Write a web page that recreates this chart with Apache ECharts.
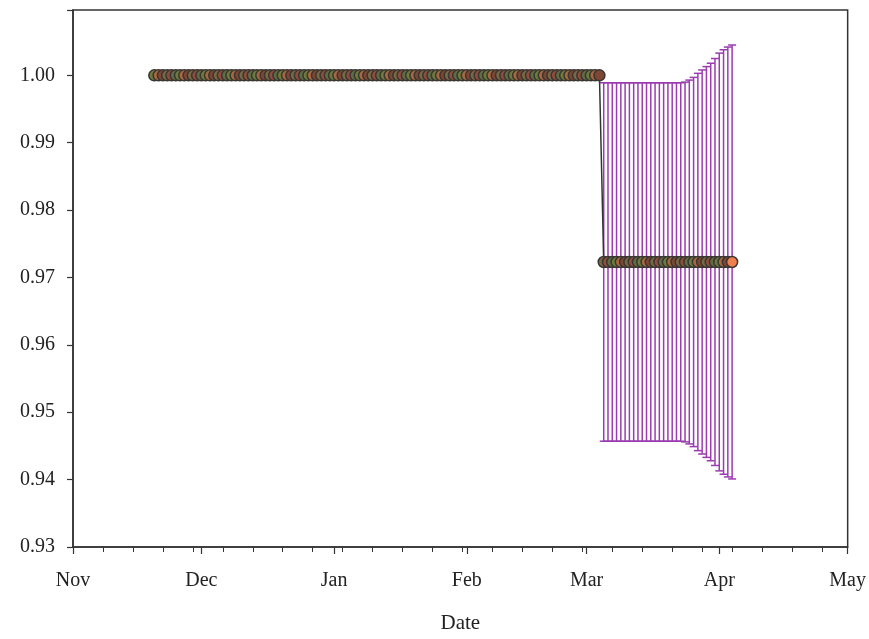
<!DOCTYPE html>
<html>
<head>
<meta charset="utf-8">
<script src="https://cdn.jsdelivr.net/npm/echarts@6/dist/echarts.min.js"></script>
<style>
  html, body { margin: 0; padding: 0; background: #ffffff; }
  #chart { width: 869px; height: 639px; }
</style>
</head>
<body>
<div id="chart"></div>
<script>
// Daily estimate, first value on 20 Nov 2020
const firstDay = [2020, 10, 20];
const survival = [
  1.000, 1.000, 1.000, 1.000, 1.000, 1.000, 1.000, 1.000, 1.000, 1.000, 1.000,
  1.000, 1.000, 1.000, 1.000, 1.000, 1.000, 1.000, 1.000, 1.000, 1.000, 1.000,
  1.000, 1.000, 1.000, 1.000, 1.000, 1.000, 1.000, 1.000, 1.000, 1.000, 1.000,
  1.000, 1.000, 1.000, 1.000, 1.000, 1.000, 1.000, 1.000, 1.000, 1.000, 1.000,
  1.000, 1.000, 1.000, 1.000, 1.000, 1.000, 1.000, 1.000, 1.000, 1.000, 1.000,
  1.000, 1.000, 1.000, 1.000, 1.000, 1.000, 1.000, 1.000, 1.000, 1.000, 1.000,
  1.000, 1.000, 1.000, 1.000, 1.000, 1.000, 1.000, 1.000, 1.000, 1.000, 1.000,
  1.000, 1.000, 1.000, 1.000, 1.000, 1.000, 1.000, 1.000, 1.000, 1.000, 1.000,
  1.000, 1.000, 1.000, 1.000, 1.000, 1.000, 1.000, 1.000, 1.000, 1.000, 1.000,
  1.000, 1.000, 1.000, 1.000, 1.000, 1.000,
  0.9723, 0.9723, 0.9723, 0.9723, 0.9723, 0.9723, 0.9723, 0.9723, 0.9723, 0.9723,
  0.9723, 0.9723, 0.9723, 0.9723, 0.9723, 0.9723, 0.9723, 0.9723, 0.9723, 0.9723,
  0.9723, 0.9723, 0.9723, 0.9723, 0.9723, 0.9723, 0.9723, 0.9723, 0.9723, 0.9723,
  0.9723
];

// Confidence limits, first value on 5 Mar 2021
const ciFirstDay = [2021, 2, 5];
const ciLower = [
  0.9457, 0.9457, 0.9457, 0.9457, 0.9457, 0.9457, 0.9457, 0.9457, 0.9457, 0.9457,
  0.9457, 0.9457, 0.9457, 0.9457, 0.9457, 0.9457, 0.9457, 0.9457, 0.9457,
  0.9456, 0.9453, 0.9449, 0.9443, 0.9438, 0.9433, 0.9428, 0.9421, 0.9413,
  0.9408, 0.9404, 0.9401
];
const ciUpper = [
  0.9989, 0.9989, 0.9989, 0.9989, 0.9989, 0.9989, 0.9989, 0.9989, 0.9989, 0.9989,
  0.9989, 0.9989, 0.9989, 0.9989, 0.9989, 0.9989, 0.9989, 0.9989, 0.9989,
  0.9990, 0.9993, 0.9997, 1.0003, 1.0008, 1.0013, 1.0018, 1.0025, 1.0033,
  1.0038, 1.0042, 1.0045
];

const monthNames = ['Jan', 'Feb', 'Mar', 'Apr', 'May', 'Jun',
                    'Jul', 'Aug', 'Sep', 'Oct', 'Nov', 'Dec'];
const axisStart = new Date(2020, 10, 1).getTime();
const axisEnd = new Date(2021, 4, 1).getTime();
const axisDays = 181;

const markerFills = ['#6c7a3c', '#a8683f', '#7e4634', '#766a44', '#924c3e', '#5f6c44'];
const lastFill = '#ef7f4e';

function dayAt(start, i) {
  return new Date(start[0], start[1], start[2] + i).getTime();
}

const lineData = survival.map((v, i) => [dayAt(firstDay, i), v]);
const barData = ciLower.map((lo, i) => [dayAt(ciFirstDay, i), lo, ciUpper[i]]);

const serif = 'Liberation Serif';
const ink = '#222222';

const chart = echarts.init(document.getElementById('chart'), null, { renderer: 'canvas' });
chart.setOption({
  animation: false,
  backgroundColor: '#ffffff',
  grid: {
    left: 73, right: 17, top: 10, bottom: 86,
    show: true, borderColor: '#333333', borderWidth: 1.5, backgroundColor: 'transparent'
  },
  xAxis: [
    {
      type: 'time',
      min: axisStart,
      max: axisEnd,
      splitNumber: 7,
      minInterval: 28 * 86400000,
      maxInterval: 31 * 86400000,
      name: 'Date',
      nameLocation: 'middle',
      nameGap: 66,
      nameTextStyle: { fontFamily: serif, fontSize: 21, color: ink },
      axisLine: { show: true, lineStyle: { color: '#333333', width: 1.5 } },
      axisTick: { show: true, length: 7, lineStyle: { color: '#333333', width: 1.2 } },
      axisLabel: {
        fontFamily: serif, fontSize: 20, color: ink, margin: 24,
        showMinLabel: true, showMaxLabel: true,
        formatter: v => monthNames[new Date(v).getMonth()]
      },
      splitLine: { show: false }
    },
    {
      // weekly minor ticks
      type: 'value',
      position: 'bottom',
      min: 0,
      max: axisDays,
      interval: 7,
      axisLine: { show: false },
      axisTick: { show: true, length: 5, lineStyle: { color: '#333333', width: 1 } },
      axisLabel: { show: false },
      splitLine: { show: false }
    }
  ],
  yAxis: {
    type: 'value',
    min: 0.93,
    max: 1.0097,
    interval: 0.01,
    axisLine: { show: true, lineStyle: { color: '#333333', width: 1.5 } },
    axisTick: { show: true, length: 6, lineStyle: { color: '#333333', width: 1.2 } },
    axisLabel: {
      fontFamily: serif, fontSize: 20, color: ink, margin: 18,
      formatter: v => Math.abs(v * 100 - Math.round(v * 100)) < 1e-6 ? v.toFixed(2) : ''
    },
    splitLine: { show: false }
  },
  series: [
    {
      type: 'custom',
      xAxisIndex: 0,
      yAxisIndex: 0,
      z: 1,
      encode: { x: 0, y: [1, 2] },
      data: barData,
      renderItem: (params, api) => {
        const x = api.value(0);
        const top = api.coord([x, api.value(2)]);
        const bot = api.coord([x, api.value(1)]);
        const cap = 4;
        const style = { stroke: '#9a3cb0', lineWidth: 1.5 };
        return {
          type: 'group',
          children: [
            { type: 'line', shape: { x1: top[0], y1: top[1], x2: bot[0], y2: bot[1] }, style },
            { type: 'line', shape: { x1: top[0] - cap, y1: top[1], x2: top[0] + cap, y2: top[1] }, style },
            { type: 'line', shape: { x1: bot[0] - cap, y1: bot[1], x2: bot[0] + cap, y2: bot[1] }, style }
          ]
        };
      }
    },
    {
      type: 'line',
      xAxisIndex: 0,
      yAxisIndex: 0,
      z: 3,
      data: lineData,
      symbol: 'circle',
      symbolSize: 11,
      showAllSymbol: true,
      lineStyle: { color: '#333333', width: 1.5 },
      itemStyle: {
        color: p => p.dataIndex === survival.length - 1 ? lastFill : markerFills[p.dataIndex % markerFills.length],
        borderColor: '#3a3632',
        borderWidth: 1.5
      }
    }
  ]
});
</script>
</body>
</html>
